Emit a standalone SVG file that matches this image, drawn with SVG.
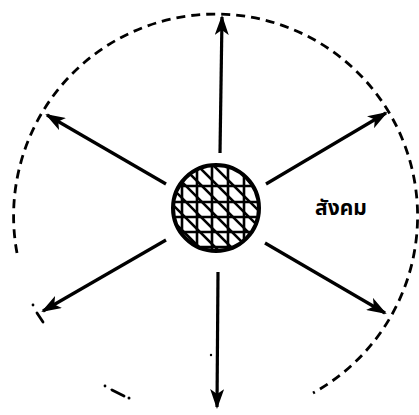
<svg xmlns="http://www.w3.org/2000/svg" width="419" height="415" viewBox="0 0 419 415">
<style>
.dash{fill:none;stroke:#000;stroke-width:2.8;stroke-dasharray:9 6}
.frag{fill:none;stroke:#000;stroke-width:2.8;stroke-linecap:round}
.arr{fill:none;stroke:#000;stroke-width:3.2;marker-end:url(#ah)}
.hatch{stroke:#000;stroke-width:2.6}
.lbl{font-family:"Noto Sans Thai","Noto Sans","Liberation Sans",sans-serif;font-weight:bold;font-size:21px;fill:#000}
</style>
<defs>
<marker id="ah" viewBox="0 0 20 14" refX="18" refY="7" markerWidth="20" markerHeight="14" markerUnits="userSpaceOnUse" orient="auto">
<path d="M0,0 L20,7 L0,14 L5,7 Z" fill="#000"/>
</marker>
<clipPath id="cc"><circle cx="216" cy="208" r="43"/></clipPath>
</defs>
<rect width="419" height="415" fill="#fff"/>
<g id="society">
<path class="dash" d="M17,253 A202,202 0 1 1 313,393"/>
<circle cx="33" cy="305" r="1.4" fill="#000"/>
<path class="frag" d="M37,313 L43,322"/>
<circle cx="105" cy="386" r="1.4" fill="#000"/>
<path class="frag" d="M112,390 L124,396"/>
<circle cx="129" cy="398" r="1.5" fill="#000"/>
<circle cx="211" cy="355" r="1.2" fill="#000"/>
<text class="lbl" x="315" y="215">สังคม</text>
</g>
<g id="individual">
<g clip-path="url(#cc)" class="hatch">
<line x1="182" y1="150" x2="182" y2="270"/>
<line x1="197" y1="150" x2="197" y2="270"/>
<line x1="212" y1="150" x2="212" y2="270"/>
<line x1="228" y1="150" x2="228" y2="270"/>
<line x1="244" y1="150" x2="244" y2="270"/>
<line x1="170" y1="186" x2="262" y2="186"/>
<line x1="170" y1="202" x2="262" y2="202"/>
<line x1="170" y1="217" x2="262" y2="217"/>
<line x1="170" y1="232" x2="262" y2="232"/>
<line x1="170" y1="247" x2="262" y2="247"/>
<line x1="140" y1="140" x2="280" y2="280"/>
<line x1="156" y1="140" x2="296" y2="280"/>
<line x1="172" y1="140" x2="312" y2="280"/>
<line x1="188" y1="140" x2="328" y2="280"/>
<line x1="124" y1="140" x2="264" y2="280"/>
<line x1="108" y1="140" x2="248" y2="280"/>
<line x1="92" y1="140" x2="232" y2="280"/>
</g>
<circle cx="216" cy="208" r="43" fill="none" stroke="#000" stroke-width="4"/>
</g>
<g id="connectors">
<line class="arr" x1="220" y1="153" x2="222" y2="17"/>
<line class="arr" x1="166" y1="184" x2="47" y2="115"/>
<line class="arr" x1="266" y1="184" x2="386" y2="113"/>
<line class="arr" x1="166" y1="240" x2="43" y2="311"/>
<line class="arr" x1="265" y1="243" x2="385" y2="313"/>
<line class="arr" x1="218" y1="272" x2="217" y2="407"/>
</g>
</svg>
